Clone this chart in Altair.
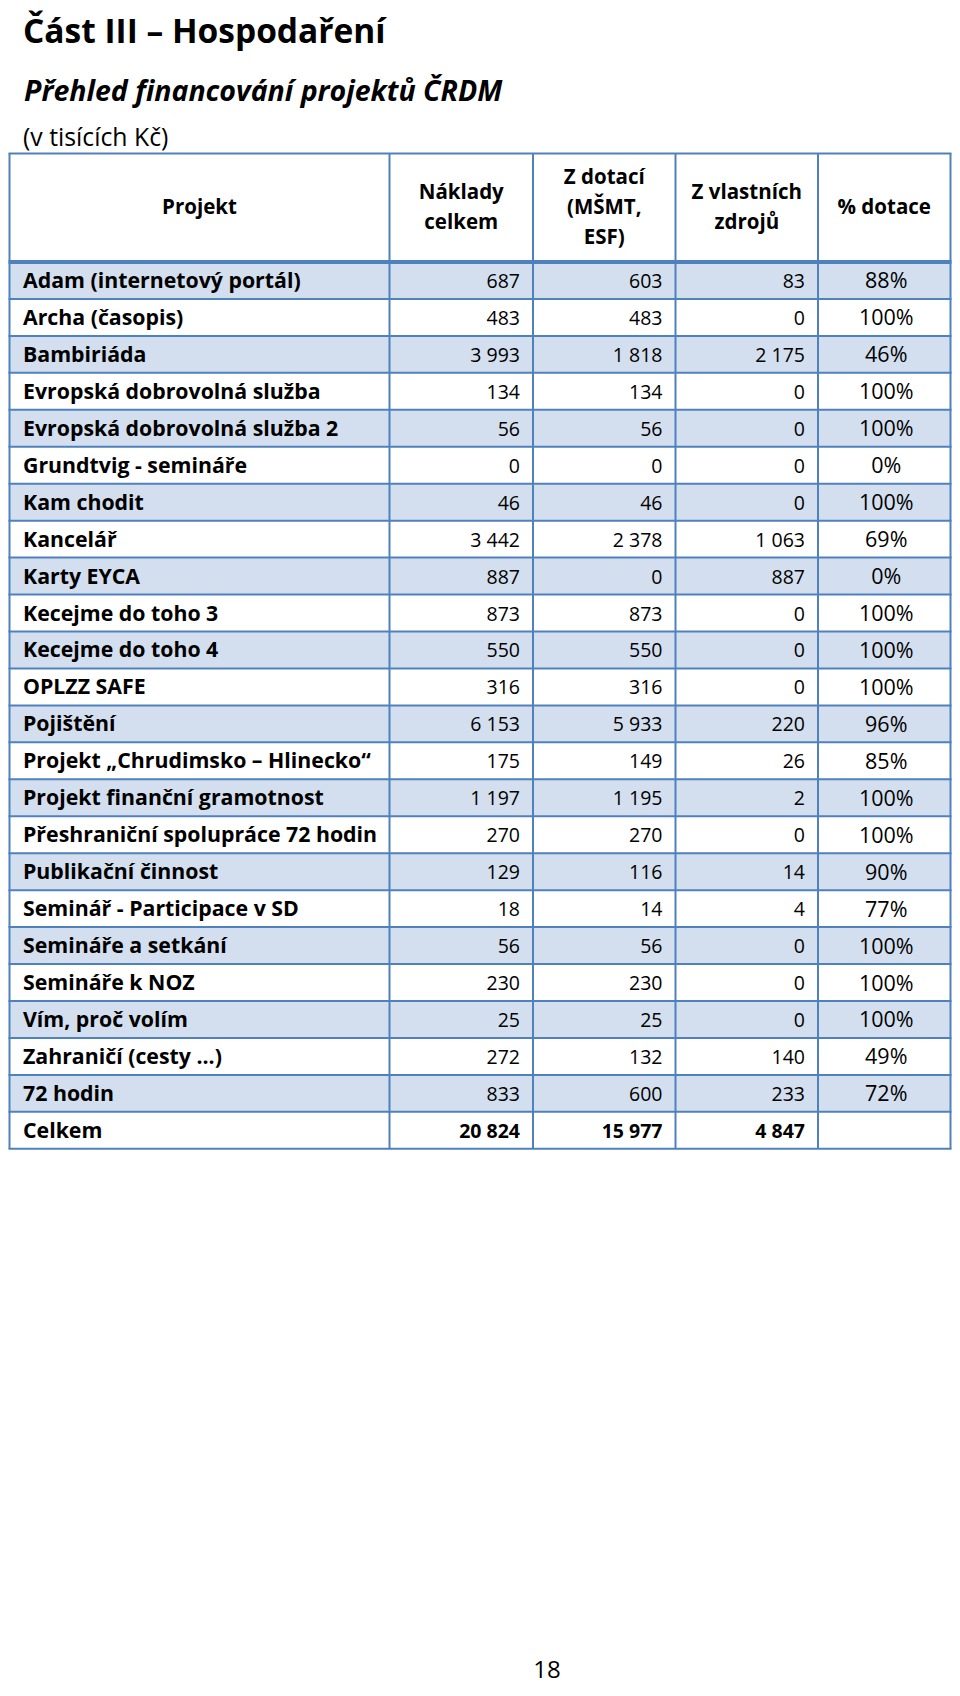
import altair as alt
import pandas as pd

# ---------------- data ----------------
projects = [
    "Adam (internetový portál)", "Archa (časopis)", "Bambiriáda",
    "Evropská dobrovolná služba", "Evropská dobrovolná služba 2",
    "Grundtvig - semináře", "Kam chodit", "Kancelář", "Karty EYCA",
    "Kecejme do toho 3", "Kecejme do toho 4", "OPLZZ SAFE", "Pojištění",
    "Projekt \u201eChrudimsko \u2013 Hlinecko\u201c", "Projekt finanční gramotnost",
    "Přeshraniční spolupráce 72 hodin", "Publikační činnost",
    "Seminář - Participace v SD", "Semináře a setkání", "Semináře k NOZ",
    "Vím, proč volím", "Zahraničí (cesty ...)", "72 hodin",
]
naklady = [687, 483, 3993, 134, 56, 0, 46, 3442, 887, 873, 550, 316, 6153,
           175, 1197, 270, 129, 18, 56, 230, 25, 272, 833]
z_dotaci = [603, 483, 1818, 134, 56, 0, 46, 2378, 0, 873, 550, 316, 5933,
            149, 1195, 270, 116, 14, 56, 230, 25, 132, 600]
z_vlastnich = [83, 0, 2175, 0, 0, 0, 0, 1063, 887, 0, 0, 0, 220,
               26, 2, 0, 14, 4, 0, 0, 0, 140, 233]
procento = [88, 100, 46, 100, 100, 0, 100, 69, 0, 100, 100, 100, 96,
            85, 100, 100, 90, 77, 100, 100, 100, 49, 72]
total_label = "Celkem"
totals = [20824, 15977, 4847]
headers = ["Projekt", "Náklady\ncelkem", "Z dotací\n(MŠMT,\nESF)",
           "Z vlastních\nzdrojů", "% dotace"]

title = "Část III \u2013 Hospodaření"
subtitle = "Přehled financování projektů ČRDM"
unit_note = "(v tisících Kč)"
page_no = "18"

# ---------------- layout / style ----------------
W, H = 944, 1678
X_EDGES = [1.5, 381.5, 525.0, 667.5, 810.0, 942.5]
TABLE_TOP = 145.5
ROW_TOP = 254.0
ROW_H = 36.95
N_ROWS = len(projects) + 1
ROW_BOTTOM = ROW_TOP + N_ROWS * ROW_H
HDR_CENTER = 199.5
HDR_LH = 30
BLUE = "#4F81BD"
SHADE = "#D3DFEE"
FONT = "Open Sans"
PAD_R = 13

def fmt(v):
    return f"{v:,}".replace(",", " ")

xs = alt.Scale(domain=[0, W], range=[0, W], nice=False, zero=False)
ys = alt.Scale(domain=[0, N_ROWS], range=[ROW_TOP, ROW_BOTTOM], nice=False, zero=False)

# ---------------- tables ----------------
rows = pd.DataFrame({
    "r": list(range(N_ROWS)),
    "name": projects + [total_label],
})
rows["r0"] = rows["r"]
rows["r1"] = rows["r"] + 1
rows["yc"] = rows["r"] + 0.5
shade_df = rows[rows["r"] % 2 == 0]

hl_df = pd.DataFrame({"k": list(range(N_ROWS + 1))})
hl_df["w"] = [4 if k == 0 else 2 for k in hl_df["k"]]

vl_df = pd.DataFrame({"x": X_EDGES})

num_cols = [naklady, z_dotaci, z_vlastnich]
num_recs = []
for ci, col in enumerate(num_cols):
    for ri, v in enumerate(col):
        num_recs.append({"yc": ri + 0.5, "x": X_EDGES[ci + 2] - PAD_R, "label": fmt(v)})
num_df = pd.DataFrame(num_recs)
tot_df = pd.DataFrame({
    "yc": [len(projects) + 0.5] * 3,
    "x": [X_EDGES[ci + 2] - PAD_R for ci in range(3)],
    "label": [fmt(v) for v in totals],
})
pct_df = pd.DataFrame({
    "yc": [i + 0.5 for i in range(len(procento))],
    "x": [(X_EDGES[4] + X_EDGES[5]) / 2 + 2] * len(procento),
    "label": [f"{p}%" for p in procento],
})

X = lambda f: alt.X(f, scale=xs, axis=None)
Y = lambda f: alt.Y(f, scale=ys, axis=None)

shade = alt.Chart(shade_df).mark_rect(color=SHADE).encode(
    x=alt.value(X_EDGES[0]), x2=alt.value(X_EDGES[-1]),
    y=Y("r0:Q"), y2="r1:Q")

hlines = alt.Chart(hl_df).mark_rule(color=BLUE).encode(
    y=Y("k:Q"), x=alt.value(X_EDGES[0] - 1), x2=alt.value(X_EDGES[-1] + 1),
    strokeWidth=alt.StrokeWidth("w:Q", scale=None, legend=None))

top_line = alt.Chart(pd.DataFrame({"t": [0]})).mark_rule(color=BLUE, strokeWidth=2).encode(
    y=alt.value(TABLE_TOP), x=alt.value(X_EDGES[0] - 1), x2=alt.value(X_EDGES[-1] + 1))

vlines = alt.Chart(vl_df).mark_rule(color=BLUE, strokeWidth=2).encode(
    x=X("x:Q"), y=alt.value(TABLE_TOP), y2=alt.value(ROW_BOTTOM))

names = alt.Chart(rows).mark_text(
    align="left", baseline="middle", font=FONT, fontSize=21.3, fontWeight="bold",
    color="black", dy=1.5
).encode(x=alt.value(15), y=Y("yc:Q"), text="name:N")

nums = alt.Chart(num_df).mark_text(
    align="right", baseline="middle", font=FONT, fontSize=19.5, color="black", dy=1.5
).encode(x=X("x:Q"), y=Y("yc:Q"), text="label:N")

tots = alt.Chart(tot_df).mark_text(
    align="right", baseline="middle", font=FONT, fontSize=19.5, fontWeight="bold",
    color="black", dy=1.5
).encode(x=X("x:Q"), y=Y("yc:Q"), text="label:N")

pcts = alt.Chart(pct_df).mark_text(
    align="center", baseline="middle", font=FONT, fontSize=21.5, color="black", dy=2
).encode(x=X("x:Q"), y=Y("yc:Q"), text="label:N")

hdr_layers = []
for i, h in enumerate(headers):
    n = len(h.split("\n"))
    hdr_layers.append(
        alt.Chart(pd.DataFrame({"label": [h], "x": [(X_EDGES[i] + X_EDGES[i + 1]) / 2]}))
        .mark_text(align="center", baseline="middle", font=FONT, fontSize=20.5,
                   fontWeight="bold", color="black", lineBreak="\n", lineHeight=HDR_LH)
        .encode(x=X("x:Q"), y=alt.value(HDR_CENTER - (n - 1) / 2 * HDR_LH), text="label:N")
    )

def label(txt, x, y, size, weight="normal", style="normal", align="left"):
    return alt.Chart(pd.DataFrame({"t": [txt]})).mark_text(
        align=align, baseline="alphabetic", font=FONT, fontSize=size,
        fontWeight=weight, fontStyle=style, color="black"
    ).encode(x=alt.value(x), y=alt.value(y), text="t:N")

t1 = label(title, 15, 35, 33.5, weight="bold")
t2 = label(subtitle, 16, 93, 28.5, weight="bold", style="italic")
t3 = label(unit_note, 15, 138, 24.8)
t4 = label(page_no, 539, 1670, 24, align="center")

chart = alt.layer(
    shade, hlines, top_line, vlines, names, nums, tots, pcts, *hdr_layers, t1, t2, t3, t4
).properties(
    width=W, height=H, autosize=alt.AutoSizeParams(type="none"), padding=0,
    background="white"
).configure_view(stroke=None)

chart.save("out.html", embed_options={"renderer": "svg", "actions": False})
